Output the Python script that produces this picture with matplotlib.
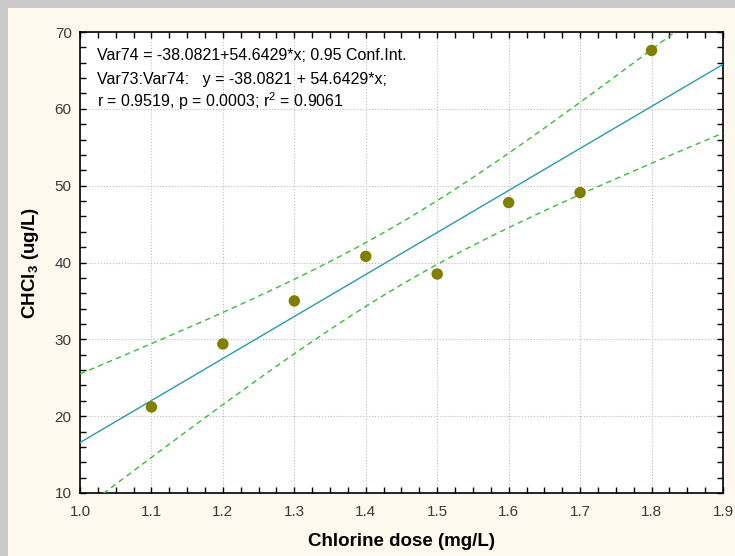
import matplotlib
matplotlib.use("Agg")
import matplotlib.pyplot as plt
from matplotlib.patches import Rectangle
from matplotlib.ticker import MultipleLocator
import numpy as np

plt.rcParams["font.family"] = ["Liberation Sans", "DejaVu Sans"]
plt.rcParams["mathtext.fontset"] = "custom"
plt.rcParams["mathtext.rm"] = "Liberation Sans"
plt.rcParams["mathtext.bf"] = "Liberation Sans:bold"

# chlorine dose (mg/L) vs CHCl3 (ug/L)
dose = np.array([1.1, 1.2, 1.3, 1.4, 1.5, 1.6, 1.7, 1.8])
chcl3 = np.array([21.2, 29.4, 35.0, 40.8, 38.5, 47.8, 49.1, 67.6])

annot_lines = [
    "Var74 = -38.0821+54.6429*x; 0.95 Conf.Int.",
    "Var73:Var74:   y = -38.0821 + 54.6429*x;",
    "r = 0.9519, p = 0.0003; r$^2$ = 0.9061",
]

# linear fit and 95% confidence band of the mean
slope, intercept = np.polyfit(dose, chcl3, 1)
n = len(dose)
resid = chcl3 - (intercept + slope * dose)
s = np.sqrt(np.sum(resid ** 2) / (n - 2))
sxx = np.sum((dose - dose.mean()) ** 2)
t_crit = 2.4469  # t(0.975, df=6)
xs = np.linspace(1.0, 1.9, 200)
ys = intercept + slope * xs
half = t_crit * s * np.sqrt(1 / n + (xs - dose.mean()) ** 2 / sxx)

fig = plt.figure(figsize=(7.35, 5.56), dpi=100)
fig.patch.set_facecolor("#c9c9c9")
fig.patches.append(Rectangle((8 / 735, 0), 1, 1 - 8 / 556, transform=fig.transFigure,
                             facecolor="#fdf9ee", edgecolor="none", zorder=-1))

ax = fig.add_axes([80 / 735, 63 / 556, 643 / 735, 461 / 556])
ax.set_facecolor("white")

ax.plot(xs, ys, color="#2a9aa8", lw=1.0, zorder=3)
ax.plot(xs, ys + half, color="#3cbb3c", lw=1.0, ls=(0, (4, 3)), zorder=3)
ax.plot(xs, ys - half, color="#3cbb3c", lw=1.0, ls=(0, (4, 3)), zorder=3)
ax.scatter(dose, chcl3, s=68, color="#808000", zorder=4, edgecolors="none")

ax.set_xlim(1.0, 1.9)
ax.set_ylim(10, 70)
ax.xaxis.set_major_locator(MultipleLocator(0.1))
ax.xaxis.set_minor_locator(MultipleLocator(0.025))
ax.yaxis.set_major_locator(MultipleLocator(10))
ax.yaxis.set_minor_locator(MultipleLocator(2))
ax.xaxis.set_major_formatter(plt.FormatStrFormatter("%.1f"))
ax.tick_params(which="both", direction="in", length=4, width=1, top=True, right=True,
               labelsize=11, labelcolor="#3a3a3a")
ax.tick_params(axis="x", pad=9)
ax.tick_params(axis="y", pad=6)
ax.grid(True, which="major", ls=":", color="#bdbdbd", lw=0.8)
ax.set_axisbelow(True)
for sp in ax.spines.values():
    sp.set_linewidth(1.2)

for i, line in enumerate(annot_lines):
    ax.text(0.026, 0.939 - i * 0.051, line, transform=ax.transAxes, fontsize=11.5,
            va="baseline", ha="left", zorder=5)

ax.set_xlabel("Chlorine dose (mg/L)", fontsize=13.5, fontweight="bold", labelpad=10)
ax.set_ylabel(r"CHCl$_\mathbf{3}$ (ug/L)", fontsize=13.5, fontweight="bold", labelpad=10)

fig.savefig("out.png", dpi=100, facecolor=fig.get_facecolor())
